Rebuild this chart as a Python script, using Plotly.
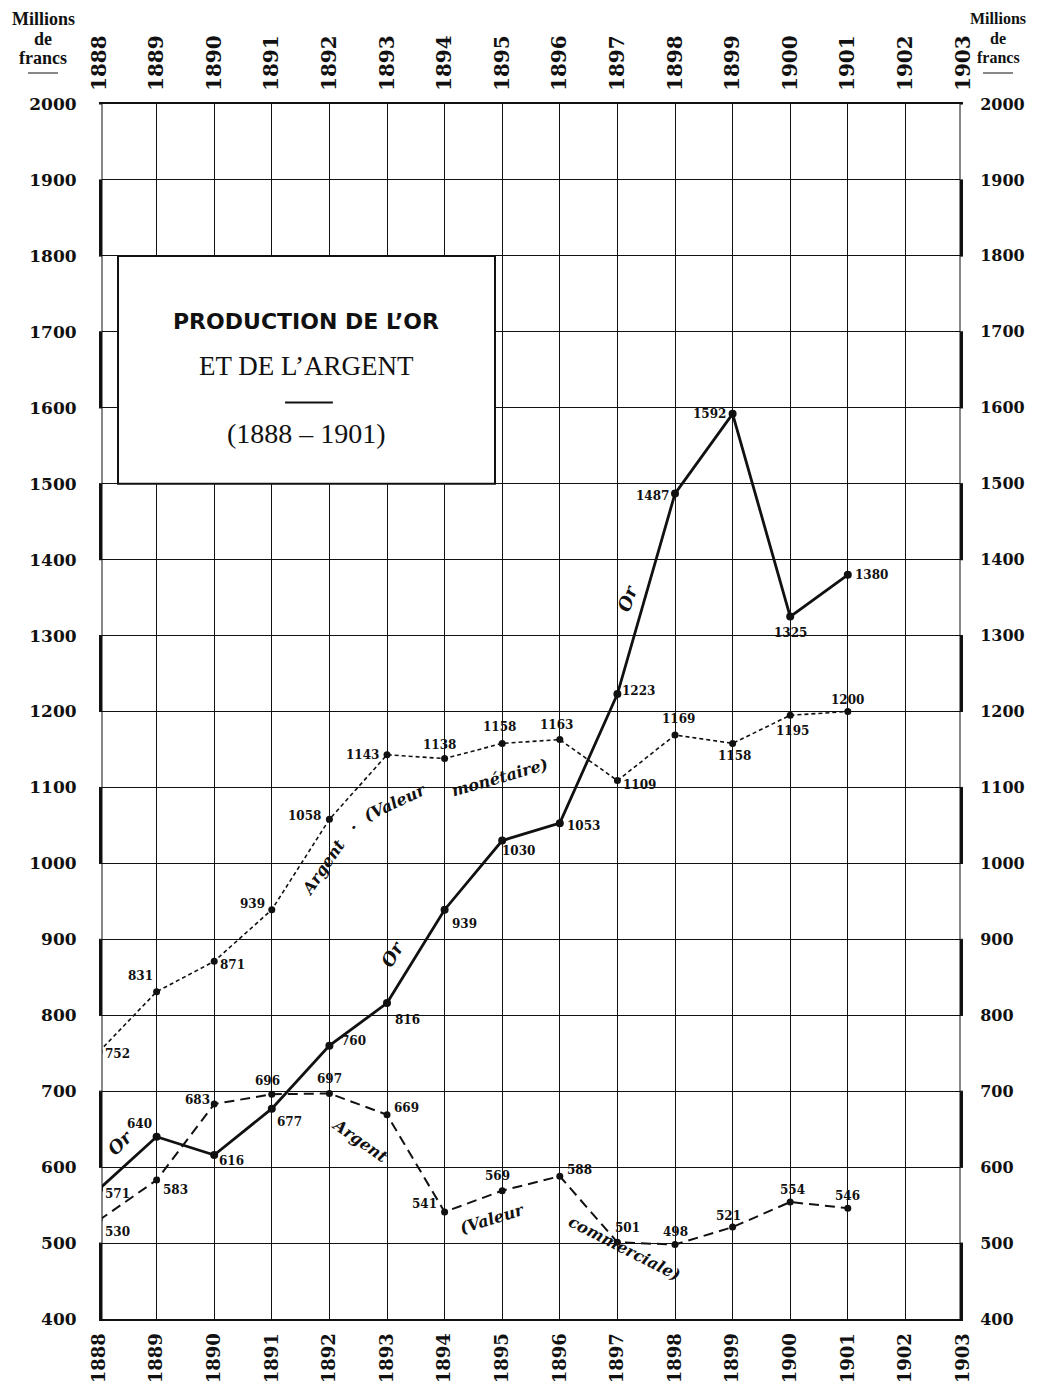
import plotly.graph_objects as go

# ---------------- data ----------------
years = [1888, 1889, 1890, 1891, 1892, 1893, 1894, 1895, 1896, 1897, 1898, 1899, 1900, 1901]
or_values = [571, 640, 616, 677, 760, 816, 939, 1030, 1053, 1223, 1487, 1592, 1325, 1380]
argent_monetaire = [752, 831, 871, 939, 1058, 1143, 1138, 1158, 1163, 1109, 1169, 1158, 1195, 1200]
argent_commerciale = [530, 583, 683, 696, 697, 669, 541, 569, 588, 501, 498, 521, 554, 546]
year_ticks = list(range(1888, 1904))
y_ticks = list(range(400, 2001, 100))

# ---------------- label placement (style only) ----------------
or_lab = [("left", 4, -5), ("right", -3, 13), ("left", 3, -6), ("left", 3, -13),
          ("left", 10, 5), ("left", 6, -17), ("left", 5, -14), ("left", -2, -10),
          ("left", 5, -3), ("left", 3, 3), ("right", -4, -2), ("right", -5, 0),
          ("center", 0, -16), ("left", 5, 0)]
mon_lab = [("left", 4, -2), ("right", -2, 16), ("left", 4, -4), ("right", -5, 6),
           ("right", -6, 3), ("right", -6, 0), ("center", -5, 14), ("center", -3, 16),
           ("center", -3, 15), ("left", 4, -4), ("center", 3, 16), ("center", 2, -13),
           ("center", 2, -16), ("center", 0, 12)]
com_lab = [("left", 4, -12), ("left", 4, -10), ("right", -2, 4), ("center", -4, 13),
           ("center", 0, 14), ("left", 5, 7), ("right", -6, 8), ("center", -5, 15),
           ("left", 5, 6), ("left", -4, 14), ("center", 0, 13), ("center", -4, 11),
           ("center", 2, 12), ("center", 0, 12)]

SERIF = "DejaVu Serif"
BLACK = "#111"

fig = go.Figure()
fig.add_trace(go.Scatter(x=years, y=argent_monetaire, mode="lines+markers",
                         line=dict(color=BLACK, width=1.6, dash="4px,3px"),
                         marker=dict(size=7, color=BLACK), hoverinfo="skip", showlegend=False))
fig.add_trace(go.Scatter(x=years, y=argent_commerciale, mode="lines+markers",
                         line=dict(color=BLACK, width=2, dash="10px,6px"),
                         marker=dict(size=7, color=BLACK), hoverinfo="skip", showlegend=False))
fig.add_trace(go.Scatter(x=years, y=or_values, mode="lines+markers",
                         line=dict(color=BLACK, width=2.8),
                         marker=dict(size=8, color=BLACK), hoverinfo="skip", showlegend=False))
# dummy traces so the mirrored axes exist
fig.add_trace(go.Scatter(x=[1888], y=[400], xaxis="x2", yaxis="y", mode="markers",
                         marker=dict(opacity=0), hoverinfo="skip", showlegend=False))
fig.add_trace(go.Scatter(x=[1888], y=[400], xaxis="x", yaxis="y2", mode="markers",
                         marker=dict(opacity=0), hoverinfo="skip", showlegend=False))

annotations = []
lab_font = dict(family=SERIF, size=12, color=BLACK, weight="bold")
for vals, labs in ((or_values, or_lab), (argent_monetaire, mon_lab), (argent_commerciale, com_lab)):
    for yr, v, (anc, dx, dy) in zip(years, vals, labs):
        annotations.append(dict(x=yr, y=v, xref="x", yref="y", text=str(v), showarrow=False,
                                xanchor=anc, yanchor="middle", xshift=dx, yshift=dy, font=lab_font))

# inline series names
ital = dict(family=SERIF, size=17, color=BLACK, style="italic", weight="bold")
inline = [
    ("Or", 1888.37, 632, -45, 18),
    ("Or", 1893.10, 881, -60, 18),
    ("Or", 1897.17, 1349, -70, 18),
    ("Argent", 1891.89, 995, -56, 16),
    (".", 1892.43, 1052, 0, 16),
    ("(Valeur", 1893.14, 1080, -25, 16),
    ("monétaire)", 1894.96, 1113, -16, 16),
    ("Argent", 1892.53, 635, 35, 16),
    ("(Valeur", 1894.84, 532, -17, 16),
    ("commerciale)", 1897.13, 493, 27, 16),
]
for t, x, y, ang, sz in inline:
    f = dict(ital)
    f["size"] = sz
    annotations.append(dict(x=x, y=y, xref="x", yref="y", text=t, showarrow=False,
                            textangle=ang, font=f))

# title box texts
annotations += [
    dict(x=1891.6, y=1713, xref="x", yref="y", text="PRODUCTION DE L’OR", showarrow=False,
         font=dict(family="DejaVu Sans", size=22, color=BLACK, weight="bold")),
    dict(x=1891.6, y=1655, xref="x", yref="y", text="ET DE L’ARGENT", showarrow=False,
         font=dict(family="Liberation Serif", size=27, color=BLACK)),
    dict(x=1891.6, y=1566, xref="x", yref="y", text="(1888 – 1901)", showarrow=False,
         font=dict(family="Liberation Serif", size=28, color=BLACK)),
]

# page body has an 8px margin: size the figure so the page needs no scrolling
OFF = 8
W, H = 1037 - 2 * OFF, 1397 - 2 * OFF
L, T = 99 - OFF, 104 - OFF
R = W - (963 - OFF)
B = H - (1319 - OFF)
pw, ph = W - L - R, H - T - B


def px_x(px):
    return (px - OFF - L) / pw


def px_y(py):
    return 1 - (py - OFF - T) / ph


for cx, sz in ((43, 18), (998, 16)):
    hdr_font = dict(family="Liberation Serif", size=sz, color=BLACK, weight="bold")
    for t, py in (("Millions", 19), ("de", 39), ("francs", 58)):
        annotations.append(dict(x=px_x(cx), y=px_y(py), xref="paper", yref="paper", text=t,
                                showarrow=False, xanchor="center", yanchor="middle", font=hdr_font))

shapes = []
for cx in (43, 998):
    shapes.append(dict(type="line", xref="paper", yref="paper", x0=px_x(cx - 15), x1=px_x(cx + 15),
                       y0=px_y(73), y1=px_y(73), line=dict(color=BLACK, width=1)))

# title box
shapes.append(dict(type="rect", xref="x", yref="y", x0=1888.33, x1=1894.875, y0=1500, y1=1800,
                   fillcolor="white", line=dict(color=BLACK, width=2), layer="above"))
shapes.append(dict(type="line", xref="x", yref="y", x0=1891.23, x1=1892.06, y0=1607, y1=1607,
                   line=dict(color=BLACK, width=2), layer="above"))

# border scale bars (alternating black / white segments)
for anchor in (1888, 1903):
    for lo in range(400, 2000, 100):
        k = (2000 - (lo + 100)) // 100
        thick = (k % 2 == 1)
        shapes.append(dict(type="rect", xref="x", yref="y", xsizemode="pixel", xanchor=anchor,
                           x0=-3, x1=3, y0=lo, y1=lo + 100,
                           fillcolor=BLACK if thick else "white",
                           line=dict(color=BLACK, width=1), layer="above"))

year_font = dict(family=SERIF, size=20, color=BLACK, weight="bold")
year_font_b = dict(family=SERIF, size=18, color=BLACK, weight="bold")
ytick_font = dict(family=SERIF, size=17, color=BLACK, weight="bold")
ytick_font_r = dict(family=SERIF, size=16, color=BLACK, weight="bold")

fig.update_layout(
    width=W, height=H,
    margin=dict(l=L, r=R, t=T, b=B, autoexpand=False),
    paper_bgcolor="white", plot_bgcolor="white",
    showlegend=False,
    annotations=annotations,
    shapes=shapes,
    xaxis=dict(range=[1888, 1903], tickmode="array", tickvals=year_ticks,
               ticktext=[str(y) for y in year_ticks], tickangle=-90,
               showgrid=True, gridcolor=BLACK, gridwidth=1.3,
               showline=True, linecolor=BLACK, linewidth=2, mirror=True,
               ticks="outside", ticklen=5, tickcolor="rgba(0,0,0,0)",
               tickfont=year_font_b, zeroline=False, fixedrange=True, automargin=False),
    xaxis2=dict(range=[1888, 1903], overlaying="x", side="top", anchor="y",
                tickmode="array", tickvals=year_ticks, ticktext=[str(y) for y in year_ticks],
                tickangle=-90, showgrid=False, showline=False,
                ticks="outside", ticklen=8, tickcolor="rgba(0,0,0,0)",
                tickfont=year_font, zeroline=False, fixedrange=True, automargin=False),
    yaxis=dict(range=[400, 2000], tickmode="array", tickvals=y_ticks,
               ticktext=[str(v) for v in y_ticks],
               showgrid=True, gridcolor=BLACK, gridwidth=1.3,
               showline=False, ticks="outside", ticklen=18, tickcolor="rgba(0,0,0,0)",
               tickfont=ytick_font, zeroline=False, fixedrange=True, automargin=False),
    yaxis2=dict(range=[400, 2000], overlaying="y", side="right", anchor="x",
                tickmode="array", tickvals=y_ticks, ticktext=[str(v) for v in y_ticks],
                showgrid=False, showline=False, ticks="outside", ticklen=13,
                tickcolor="rgba(0,0,0,0)", tickfont=ytick_font_r, zeroline=False,
                fixedrange=True, automargin=False),
)

fig.write_html("out.html")
